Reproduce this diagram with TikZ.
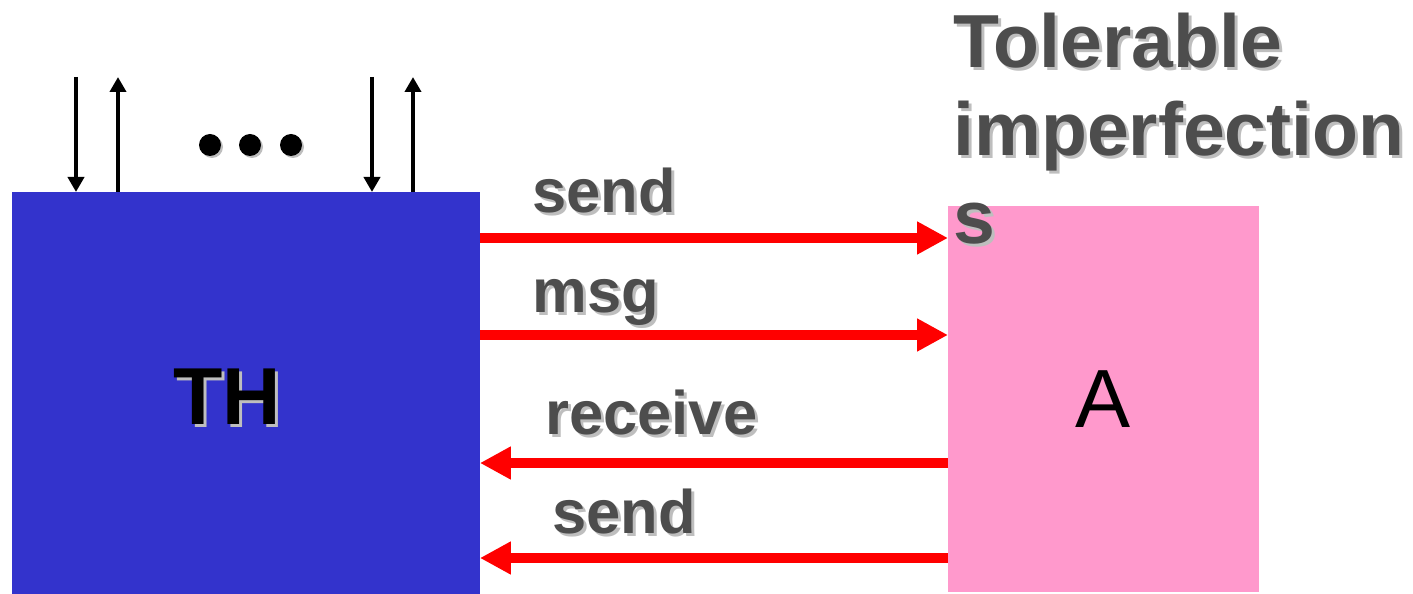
\documentclass[tikz,border=0pt]{standalone}
\usepackage{fontspec}
\setmainfont{Liberation Sans}
\usetikzlibrary{arrows.meta}
\definecolor{BoxBlue}{RGB}{51,51,204}
\definecolor{BoxPink}{RGB}{255,153,204}
\definecolor{TextGray}{RGB}{77,77,77}
\definecolor{ShadeGray}{RGB}{190,190,190}
\definecolor{MsgRed}{RGB}{255,0,0}

% text with a soft gray drop shadow: name, style, position, text
\newcommand{\shadowed}[4]{%
	\node[#2,text=ShadeGray,xshift=0.06cm,yshift=-0.06cm] (#1-shade) at (#3) {#4};
	\node[#2] (#1) at (#3) {#4};}

\begin{document}
\begin{tikzpicture}[x=0.02cm,y=0.02cm,
	lbl/.style={font=\fontsize{35}{40}\selectfont\bfseries, text=TextGray, anchor=base west, inner sep=0},
	msgline/.style={draw=MsgRed, line width=5.3pt, -{Triangle[length=0.62cm,width=0.62cm]}},
	ioline/.style={line width=2.2pt, -{Triangle[length=0.3cm,width=0.32cm]}}]
	\useasboundingbox (0,0) rectangle (1413,-594);

	% the two parties
	\node[fill=BoxBlue, anchor=north west, minimum width=9.36cm, minimum height=8.06cm, inner sep=0, outer sep=0] (th) at (12,-192) {};
	\node[fill=BoxPink, anchor=north west, minimum width=6.22cm, minimum height=7.72cm, inner sep=0, outer sep=0,
		font=\fontsize{47}{50}\selectfont] (a) at (948,-206) {A};
	\shadowed{thname}{font=\fontsize{46}{50}\selectfont\bfseries, inner sep=0}{227,-397}{TH}

	% interfaces on top of TH
	\coordinate (in1) at (76,-77);
	\coordinate (out1) at (118,-77);
	\coordinate (in2) at (372,-77);
	\coordinate (out2) at (413,-77);
	\draw[ioline] (in1) -- (th.north -| in1);
	\draw[ioline] (th.north -| out1) -- (out1);
	\draw[ioline] (in2) -- (th.north -| in2);
	\draw[ioline] (th.north -| out2) -- (out2);

	\foreach \x in {210,250,291}{
		\fill[ShadeGray] (\x+2,-147) circle (11);
		\fill (\x,-145) circle (11);
	}

	% messages between TH and A
	\draw[msgline] (th.east |- 0,-238) -- (a.west |- 0,-238);
	\draw[msgline] (th.east |- 0,-335) -- (a.west |- 0,-335);
	\draw[msgline] (a.west |- 0,-463) -- (th.east |- 0,-463);
	\draw[msgline] (a.west |- 0,-558) -- (th.east |- 0,-558);

	\shadowed{send1}{lbl}{532,-213}{send}
	\shadowed{msg}{lbl}{532,-313}{msg}
	\shadowed{recv}{lbl}{545,-435}{receive}
	\shadowed{send2}{lbl}{552,-533}{send}

	\shadowed{tol}{lbl, anchor=north west, align=left, font=\fontsize{42.8}{50}\selectfont\bfseries}{953,-13}{Tolerable\\imperfection\\s}
\end{tikzpicture}
\end{document}
